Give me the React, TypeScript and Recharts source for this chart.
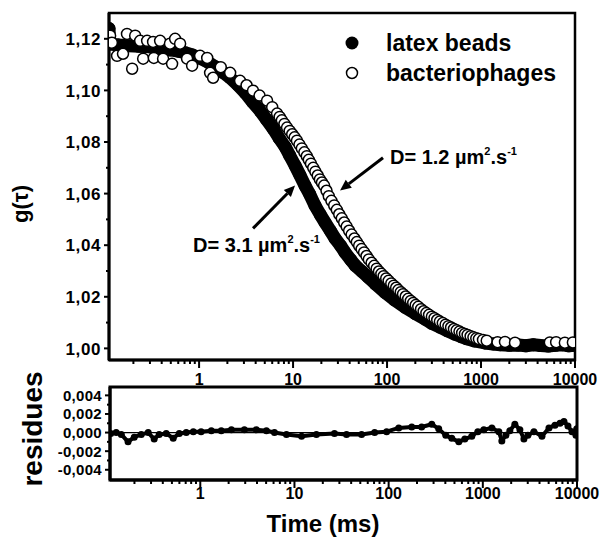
import React from 'react';
import { ComposedChart, Scatter, XAxis, YAxis, ReferenceLine, ReferenceArea, Legend } from 'recharts';

const FONT = "'Liberation Sans', Arial, Helvetica, sans-serif";

// ---------- data ----------
const latexTau = [0.11, 0.112, 0.14, 0.18, 0.23, 0.3, 0.38, 0.49, 0.6, 0.71, 0.85, 1.0, 1.2, 1.48, 1.8, 2.14, 2.6, 3.09, 3.7, 4.46, 5.2, 6.13, 7.1, 8.22, 9.2, 10.5, 11.8, 13.4, 15, 17.1, 19.5, 21.9, 25, 28, 32, 35.7, 41, 45.7, 54, 63, 75, 95, 120, 155, 200, 254, 300, 366, 440, 529, 620, 709, 850, 1100, 1350, 1600, 2000, 2500, 3000, 3600, 4300, 5200, 6200, 7400, 8600, 9900];
const latexG = [1.1240, 1.1180, 1.1176, 1.1173, 1.1171, 1.1169, 1.1163, 1.1157, 1.1152, 1.1146, 1.1137, 1.1126, 1.1113, 1.1092, 1.1070, 1.1049, 1.1020, 1.0991, 1.0955, 1.0921, 1.0888, 1.0852, 1.0815, 1.0782, 1.0748, 1.0709, 1.0672, 1.0631, 1.0598, 1.0554, 1.0518, 1.0488, 1.0455, 1.0426, 1.0398, 1.0372, 1.0344, 1.0322, 1.0298, 1.0276, 1.0250, 1.0217, 1.0188, 1.0160, 1.0135, 1.0113, 1.0097, 1.0082, 1.0068, 1.0055, 1.0045, 1.0037, 1.0029, 1.0021, 1.0017, 1.0014, 1.0012, 1.0013, 1.0010, 1.0014, 1.0011, 1.0009, 1.0012, 1.0014, 1.0010, 1.0012];

const phageTau = [0.113, 0.118, 0.134, 0.155, 0.171, 0.194, 0.209, 0.236, 0.254, 0.28, 0.324, 0.33, 0.385, 0.414, 0.49, 0.516, 0.556, 0.628, 0.745, 0.843, 1.025, 1.22, 1.31, 1.41, 1.7, 2.14, 2.73, 3.2, 3.75, 4.4, 5.29, 6.0, 6.76, 7.2, 7.6, 8.1, 8.63, 9.2, 9.8, 10.4, 11.0, 11.7, 12.4, 13.2, 14.0, 14.7, 15.5, 16.4, 17.3, 18.3, 19.3, 20.3, 21.4, 22.7, 24.0, 25.6, 27.4, 29.2, 31, 33, 35, 37.2, 39.5, 42, 45, 47.7, 50.5, 53.6, 57, 60.5, 64, 68.5, 73, 77.5, 82, 87, 92, 98, 104, 111, 118, 125, 132, 140, 148, 158, 168, 179, 190, 202, 215, 230, 245, 262, 280, 300, 320, 342, 365, 392, 420, 450, 480, 515, 550, 590, 630, 675, 720, 775, 830, 890, 950, 1050, 1150, 1500, 1800, 2300, 5400, 6300, 7800, 9500];
const phageG = [1.1212, 1.1185, 1.1134, 1.1142, 1.1219, 1.1084, 1.1212, 1.1192, 1.1123, 1.1192, 1.1188, 1.1126, 1.1192, 1.1123, 1.1181, 1.1103, 1.1200, 1.1181, 1.1123, 1.1096, 1.1134, 1.1126, 1.1068, 1.1049, 1.1090, 1.1068, 1.1037, 1.1020, 1.0999, 1.0980, 1.0960, 1.0935, 1.0910, 1.0897, 1.0884, 1.0870, 1.0856, 1.0843, 1.0830, 1.0818, 1.0805, 1.0790, 1.0775, 1.0760, 1.0745, 1.0731, 1.0716, 1.0700, 1.0685, 1.0670, 1.0655, 1.0643, 1.0631, 1.0611, 1.0590, 1.0572, 1.0554, 1.0537, 1.0520, 1.0504, 1.0488, 1.0472, 1.0456, 1.0441, 1.0426, 1.0412, 1.0398, 1.0385, 1.0372, 1.0358, 1.0345, 1.0332, 1.0320, 1.0309, 1.0298, 1.0289, 1.0280, 1.0271, 1.0262, 1.0252, 1.0243, 1.0235, 1.0226, 1.0218, 1.0210, 1.0201, 1.0192, 1.0184, 1.0176, 1.0168, 1.0161, 1.0152, 1.0144, 1.0137, 1.0130, 1.0123, 1.0117, 1.0110, 1.0104, 1.0098, 1.0092, 1.0086, 1.0081, 1.0075, 1.0070, 1.0065, 1.0060, 1.0056, 1.0052, 1.0047, 1.0043, 1.0039, 1.0036, 1.0033, 1.0030, 1.0024, 1.0025, 1.0022, 1.0023, 1.0024, 1.0022, 1.0023];

const residTau = [0.112, 0.128, 0.145, 0.171, 0.199, 0.236, 0.28, 0.324, 0.366, 0.435, 0.516, 0.598, 0.71, 0.843, 1.02, 1.31, 1.67, 2.14, 2.94, 3.94, 5.04, 6.13, 8.22, 11.9, 17.1, 26.6, 35.7, 51.6, 71.0, 95.2, 128, 176, 224, 287, 340, 404, 468, 556, 644, 764, 885, 1025, 1248, 1480, 1592, 1757, 1937, 2189, 2475, 2731, 3011, 3488, 4245, 5038, 5834, 6597, 7271, 8017, 8844, 9750, 9950];
const residValue = [-0.0001, 0.0000, -0.0002, -0.0010, -0.0005, -0.0002, 0.0000, -0.0007, -0.0002, -0.0001, -0.0006, -0.0001, 0.0000, 0.0001, 0.0001, 0.0002, 0.0002, 0.0003, 0.0003, 0.0003, 0.0002, 0.0000, -0.0002, -0.0004, -0.0002, -0.0001, -0.0002, -0.0002, 0.0000, 0.0001, 0.0005, 0.0006, 0.0006, 0.0009, 0.0004, -0.0003, -0.0006, -0.0010, -0.0007, -0.0004, 0.0001, 0.0003, 0.0005, 0.0001, -0.0009, -0.0003, 0.0002, 0.0009, 0.0003, -0.0007, -0.0003, 0.0001, -0.0004, 0.0005, 0.0008, 0.0010, 0.0012, 0.0007, 0.0001, -0.0003, 0.0004];

const xMajorTicks = [1, 10, 100, 1000, 10000];
const xTickLabels = ['1', '10', '100', '1000', '10000'];
const gMajorTicks = [1.0, 1.02, 1.04, 1.06, 1.08, 1.1, 1.12];
const gTickLabels = ['1,00', '1,02', '1,04', '1,06', '1,08', '1,10', '1,12'];
const gMinorTicks = [1.01, 1.03, 1.05, 1.07, 1.09, 1.11];
const rMajorTicks = [-0.004, -0.002, 0, 0.002, 0.004];
const rTickLabels = ['-0,004', '-0,002', '0,000', '0,002', '0,004'];
const rMinorTicks = [-0.003, -0.001, 0.001, 0.003];

const seriesNames = ['latex beads', 'bacteriophages'];
const annot12 = { x1: 90.6, y1: 1.0739, x2: 31.6, y2: 1.0612 };
const annot31 = { x1: 3.75, y1: 1.0465, x2: 10.5, y2: 1.0631 };

// ---------- derived ----------
const X_DOMAIN: [number, number] = [0.11, 10000];
const G_DOMAIN: [number, number] = [0.9955, 1.13];
const R_DOMAIN: [number, number] = [-0.0051, 0.0049];

const latexData = latexTau.map((tau, i) => ({ tau, g: latexG[i] }));
const phageData = phageTau.map((tau, i) => ({ tau, g: phageG[i] }));
const residData = residTau.map((tau, i) => ({ tau, r: residValue[i] }));

const xMinorTicks = [0.1, 1, 10, 100, 1000]
  .flatMap((d) => [2, 3, 4, 5, 6, 7, 8, 9].map((m) => +(m * d).toPrecision(3)))
  .filter((v) => v > X_DOMAIN[0] && v < X_DOMAIN[1]);
const xTicks = [...xMinorTicks, ...xMajorTicks].sort((a, b) => a - b);
const gTicks = [...gMinorTicks, ...gMajorTicks].sort((a, b) => a - b);
const rTicks = [...rMinorTicks, ...rMajorTicks].sort((a, b) => a - b);

const findIdx = (arr: number[], v: number) => arr.findIndex((m) => Math.abs(m - v) < 1e-9);

const makeXTick = (labelDy: number) => (props: any) => {
  const { x, y, payload } = props;
  const idx = findIdx(xMajorTicks, payload.value);
  const major = idx >= 0;
  return (
    <g>
      <line x1={x} x2={x} y1={y} y2={y + (major ? 8 : 4)} stroke="#000" strokeWidth={2} />
      {major && (
        <text x={x} y={y + labelDy} textAnchor="middle" fontFamily={FONT} fontWeight="bold" fontSize={16} fill="#000">
          {xTickLabels[idx]}
        </text>
      )}
    </g>
  );
};

const makeYTick = (majors: number[], labels: string[], fs: number, ls: number) => (props: any) => {
  const { x, y, payload } = props;
  const idx = findIdx(majors, payload.value);
  const major = idx >= 0;
  return (
    <g>
      <line x1={x - (major ? 5 : 3)} x2={x} y1={y} y2={y} stroke="#000" strokeWidth={2} />
      {major && (
        <text x={x - 8} y={y} dy="0.36em" textAnchor="end" fontFamily={FONT} fontWeight="bold" fontSize={fs} letterSpacing={ls} fill="#000">
          {labels[idx]}
        </text>
      )}
    </g>
  );
};

const FilledDot = (p: any) => <circle cx={p.cx} cy={p.cy} r={6.5} fill="#000" />;
const OpenDot = (p: any) => <circle cx={p.cx} cy={p.cy} r={5.5} fill="#fff" stroke="#000" strokeWidth={1.5} />;
const ResidDot = (p: any) => <circle cx={p.cx} cy={p.cy} r={3.5} fill="#000" />;

const AnnotText = ({ x, y, value }: { x: number; y: number; value: string }) => (
  <text x={x} y={y} fontFamily={FONT} fontWeight="bold" fontSize={20} fill="#000">
    {`D= ${value} µm`}
    <tspan dy={-9} fontSize={11}>2</tspan>
    <tspan dy={9}>.s</tspan>
    <tspan dy={-9} fontSize={11}>-1</tspan>
  </text>
);

const makeArrow = (value: string, tdx: number, tdy: number) => (props: any) => {
  const { x1, y1, x2, y2 } = props;
  const dx = x2 - x1;
  const dy = y2 - y1;
  const len = Math.sqrt(dx * dx + dy * dy) || 1;
  const ux = dx / len;
  const uy = dy / len;
  const hl = 11;
  const hw = 5;
  const bx = x2 - ux * hl;
  const by = y2 - uy * hl;
  const pts = `${x2},${y2} ${bx - uy * hw},${by + ux * hw} ${bx + uy * hw},${by - ux * hw}`;
  return (
    <g>
      <line x1={x1} y1={y1} x2={bx} y2={by} stroke="#000" strokeWidth={3} />
      <polygon points={pts} fill="#000" />
      <AnnotText x={x1 + tdx} y={y1 + tdy} value={value} />
    </g>
  );
};

const LegendContent = (props: any) => {
  const payload = (props.payload || [])
    .filter((p: any) => seriesNames.includes(p.value))
    .sort((a: any, b: any) => seriesNames.indexOf(a.value) - seriesNames.indexOf(b.value));
  return (
    <div style={{ fontFamily: FONT, fontWeight: 'bold', fontSize: 23, color: '#000' }}>
      {payload.map((p: any, i: number) => (
        <div key={i} style={{ display: 'flex', alignItems: 'center', height: 30 }}>
          <svg width={46} height={30} style={{ display: 'block' }}>
            {p.value === seriesNames[0] ? (
              <circle cx={12} cy={15} r={6.5} fill="#000" />
            ) : (
              <circle cx={12} cy={15} r={5.5} fill="#fff" stroke="#000" strokeWidth={1.5} />
            )}
          </svg>
          <span style={{ lineHeight: '30px' }}>{p.value}</span>
        </div>
      ))}
    </div>
  );
};

export default function App() {
  return (
    <div style={{ position: 'absolute', left: 0, top: 0, width: 602, height: 540, background: '#fff', overflow: 'hidden' }}>
      <div style={{ position: 'absolute', left: 0, top: 0 }}>
        <ComposedChart width={602} height={400} margin={{ top: 13, right: 27, bottom: 10, left: 49 }}>
          <XAxis
            dataKey="tau"
            type="number"
            scale="log"
            domain={X_DOMAIN}
            allowDataOverflow
            ticks={xTicks}
            interval={0}
            tick={makeXTick(25)}
            tickLine={false}
            tickSize={0}
            tickMargin={0}
            axisLine={{ stroke: '#000', strokeWidth: 3 }}
            height={30}
          />
          <YAxis
            dataKey="g"
            type="number"
            domain={G_DOMAIN}
            allowDataOverflow
            ticks={gTicks}
            interval={0}
            tick={makeYTick(gMajorTicks, gTickLabels, 17, 0.6)}
            tickLine={false}
            tickSize={0}
            tickMargin={0}
            axisLine={{ stroke: '#000', strokeWidth: 3 }}
            width={60}
          />
          <ReferenceArea x1={X_DOMAIN[0]} x2={X_DOMAIN[1]} y1={G_DOMAIN[0]} y2={G_DOMAIN[1]} fill="none" stroke="#000" strokeWidth={2.5} fillOpacity={0} />
          <Scatter
            name={seriesNames[0]}
            data={latexData}
            shape={FilledDot}
            line={{ stroke: '#000', strokeWidth: 13, strokeLinejoin: 'round', strokeLinecap: 'round' }}
            lineType="joint"
            fill="#000"
            isAnimationActive={false}
          />
          <Scatter name={seriesNames[1]} data={phageData} shape={OpenDot} fill="#fff" isAnimationActive={false} />
          <ReferenceLine
            segment={[{ x: annot12.x1, y: annot12.y1 }, { x: annot12.x2, y: annot12.y2 }]}
            shape={makeArrow('1.2', 7, 6)}
          />
          <ReferenceLine
            segment={[{ x: annot31.x1, y: annot31.y1 }, { x: annot31.x2, y: annot31.y2 }]}
            shape={makeArrow('3.1', -60, 24)}
          />
          <Legend
            layout="vertical"
            align="center"
            verticalAlign="middle"
            content={LegendContent}
            wrapperStyle={{ left: 340, top: 28, width: 240, height: 60 }}
          />
          <text transform="translate(28,204) rotate(-90)" textAnchor="middle" fontFamily={FONT} fontWeight="bold" fontSize={22} fill="#000">
            g(τ)
          </text>
        </ComposedChart>
      </div>
      <div style={{ position: 'absolute', left: 0, top: 370 }}>
        <ComposedChart width={602} height={170} margin={{ top: 17, right: 25, bottom: 30, left: 50 }}>
          <XAxis
            dataKey="tau"
            type="number"
            scale="log"
            domain={X_DOMAIN}
            allowDataOverflow
            ticks={xTicks}
            interval={0}
            tick={makeXTick(19)}
            tickLine={false}
            tickSize={0}
            tickMargin={0}
            axisLine={{ stroke: '#000', strokeWidth: 3 }}
            height={30}
          />
          <YAxis
            dataKey="r"
            type="number"
            domain={R_DOMAIN}
            allowDataOverflow
            ticks={rTicks}
            interval={0}
            tick={makeYTick(rMajorTicks, rTickLabels, 15, 0.3)}
            tickLine={false}
            tickSize={0}
            tickMargin={0}
            axisLine={{ stroke: '#000', strokeWidth: 3 }}
            width={60}
          />
          <ReferenceArea x1={X_DOMAIN[0]} x2={X_DOMAIN[1]} y1={R_DOMAIN[0]} y2={R_DOMAIN[1]} fill="none" stroke="#000" strokeWidth={3} fillOpacity={0} />
          <ReferenceLine y={0} stroke="#000" strokeWidth={1.2} />
          <Scatter
            name="residues"
            data={residData}
            shape={ResidDot}
            line={{ stroke: '#000', strokeWidth: 4, strokeLinejoin: 'round' }}
            lineType="joint"
            fill="#000"
            isAnimationActive={false}
          />
          <text transform="translate(42,59) rotate(-90)" textAnchor="middle" fontFamily={FONT} fontWeight="bold" fontSize={28} fill="#000">
            residues
          </text>
          <text x={323} y={162} textAnchor="middle" fontFamily={FONT} fontWeight="bold" fontSize={24} fill="#000">
            Time (ms)
          </text>
        </ComposedChart>
      </div>
    </div>
  );
}
